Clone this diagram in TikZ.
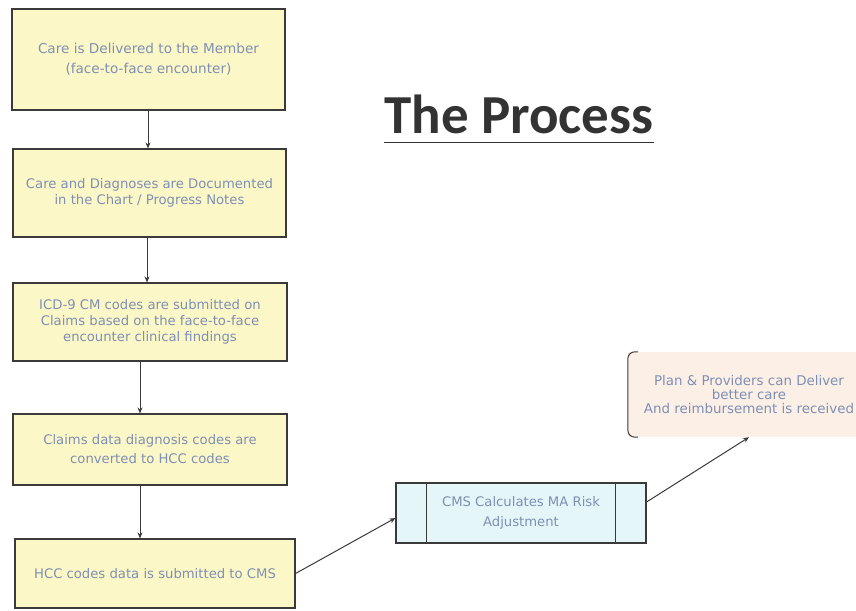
\documentclass[tikz,border=0pt]{standalone}
\usepackage{fontspec}
\setmainfont{DejaVu Sans}
\newfontfamily\titlefont{Carlito}
\usetikzlibrary{arrows.meta,calc}
\definecolor{boxfill}{HTML}{FCF7C6}
\definecolor{cmsfill}{HTML}{E4F6F8}
\definecolor{peach}{HTML}{FCEFE6}
\definecolor{txt}{HTML}{7E90B6}
\definecolor{edge}{HTML}{3A3A3A}
\begin{document}
\begin{tikzpicture}[x=1pt,y=-1pt,
  stepbox/.style={draw=edge,line width=1.1pt,fill=boxfill,inner sep=0pt,align=center,
    text=txt,font=\fontsize{13.2}{18}\selectfont},
  arr/.style={draw=edge,line width=1pt,-{Stealth[length=6pt,width=5pt]}}]
\useasboundingbox (0,0) rectangle (856,610);
\node[stepbox,minimum width=273pt,minimum height=101pt,font=\fontsize{13.6}{20}\selectfont] (b1) at (148.5,59.5)
  {Care is Delivered to the Member\\(face-to-face encounter)};
\node[stepbox,minimum width=273pt,minimum height=88pt,font=\fontsize{13.2}{16}\selectfont] (b2) at (149.5,193)
  {Care and Diagnoses are Documented\\in the Chart / Progress Notes};
\node[stepbox,minimum width=274pt,minimum height=78pt,font=\fontsize{13.2}{16}\selectfont] (b3) at (150,322)
  {ICD-9 CM codes are submitted on\\Claims based on the face-to-face\\encounter clinical findings};
\node[stepbox,minimum width=274pt,minimum height=71pt,font=\fontsize{13.2}{19}\selectfont] (b4) at (150,449.5)
  {Claims data diagnosis codes are\\converted to HCC codes};
\node[stepbox,minimum width=280pt,minimum height=69pt] (b5) at (155,573.5)
  {HCC codes data is submitted to CMS};
\node[stepbox,fill=cmsfill,minimum width=250pt,minimum height=60pt,
  font=\fontsize{13.2}{20}\selectfont] (cms) at (521,513)
  {CMS Calculates MA Risk\\Adjustment};
\draw[edge,line width=1.1pt] (cms.north west) ++(31,0) coordinate (cl1) -- (cl1 |- cms.south);
\draw[edge,line width=1.1pt] (cms.north east) ++(-31,0) coordinate (cr1) -- (cr1 |- cms.south);
\node[fill=peach,minimum width=242pt,minimum height=85pt,inner sep=0pt,align=center,
  text=txt,font=\fontsize{13.4}{14}\selectfont] (plan) at (749,394.5)
  {Plan \& Providers can Deliver\\better care\\And reimbursement is received};
\draw[edge,line width=1pt,rounded corners=7pt]
  ($(plan.north west)+(10,0)$) -- (plan.north west) -- (plan.south west) -- ($(plan.south west)+(10,0)$);
\node[font=\titlefont\bfseries\fontsize{55}{55}\selectfont,text=black!80,inner sep=0pt,anchor=base] (title) at (519,133) {The Process};
\draw[black!80,line width=1.6pt] ($(title.south west)+(0,9)$) -- ($(title.south east)+(0,9)$);
\draw[arr] (b1.south -| 148,0) -- (b2.north -| 148,0);
\draw[arr] (b2.south -| 147,0) -- (b3.north -| 147,0);
\draw[arr] (b3.south -| 140,0) -- (b4.north -| 140,0);
\draw[arr] (b4.south -| 140,0) -- (b5.north -| 140,0);
\draw[arr] (b5.east) -- ($(cms.west)+(0,5)$);
\draw[arr] ($(cms.east)+(0,-11)$) -- (plan.south);
\end{tikzpicture}
\end{document}
